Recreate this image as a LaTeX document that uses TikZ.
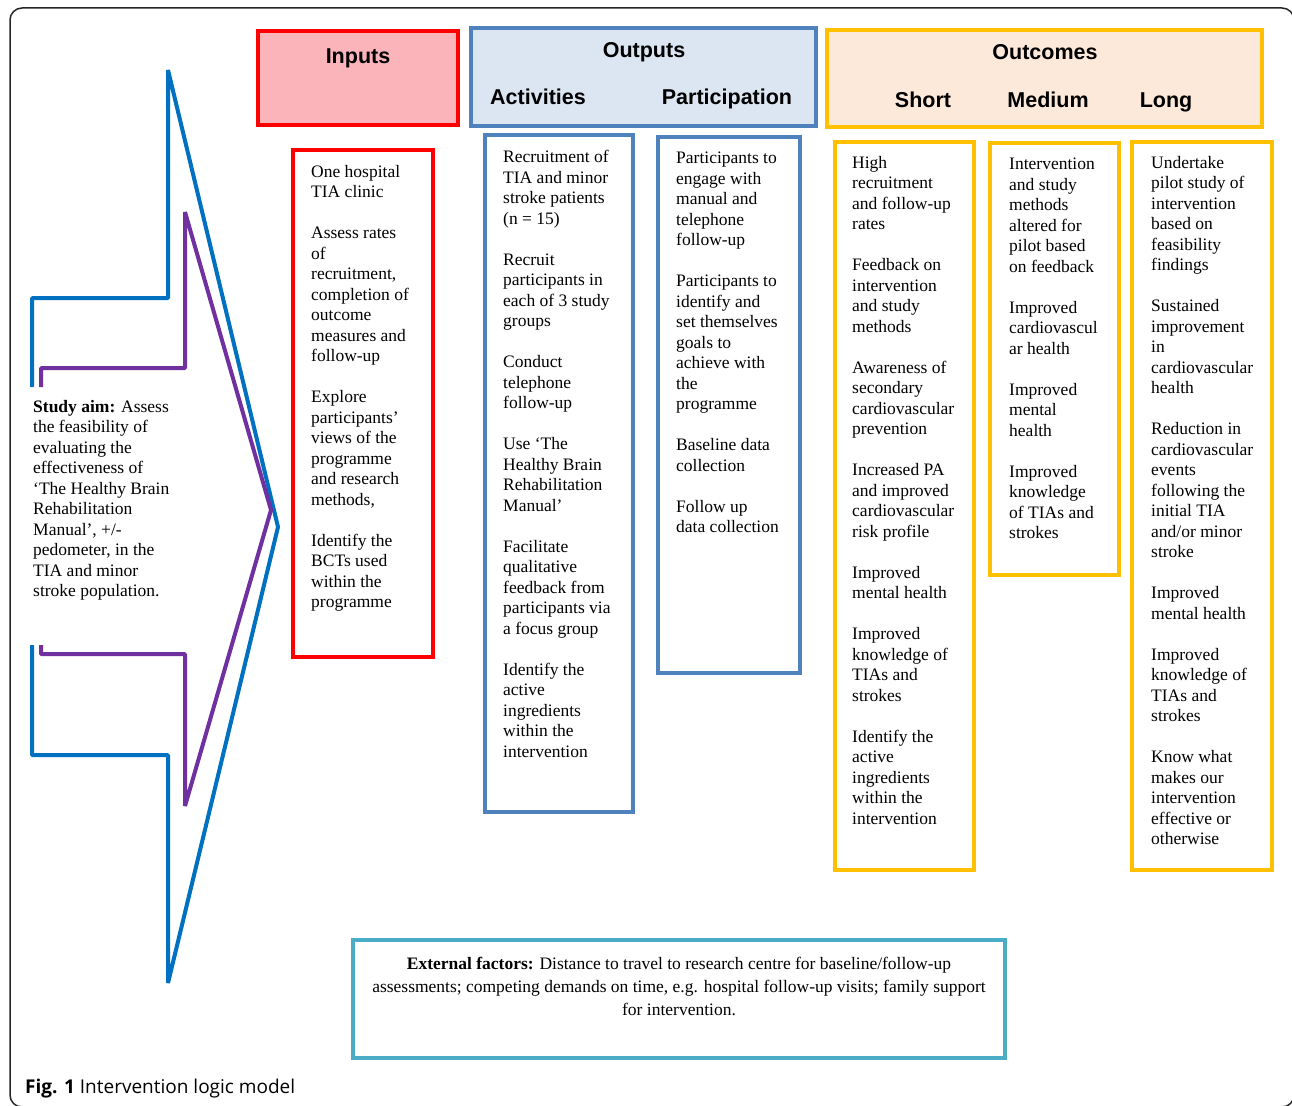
\documentclass[tikz,border=0pt]{standalone}
\usepackage{fontspec}
\setmainfont{Liberation Serif}
\newfontfamily\hdrfont{Liberation Sans}
\newfontfamily\capfont{Open Sans}
\definecolor{myred}{HTML}{FF0000}
\definecolor{pinkfill}{HTML}{FBB4B9}
\definecolor{outblue}{HTML}{4F81BD}
\definecolor{outfill}{HTML}{DCE6F2}
\definecolor{ocyel}{HTML}{FFC000}
\definecolor{ocfill}{HTML}{FDE9D9}
\definecolor{extcol}{HTML}{4BACC6}
\definecolor{arrblue}{HTML}{0070C0}
\definecolor{arrpurple}{HTML}{7030A0}
\newcommand\pgap{\\[20.5pt]}
\begin{document}
\begin{tikzpicture}[x=1pt,y=-1pt,
  boxline/.style={line width=4pt},
  bodytext/.style={anchor=north west, inner sep=0pt, align=left,
     font=\fontsize{17.5}{20.5}\selectfont, execute at begin node=\strut},
  hdrtext/.style={anchor=base, inner sep=0pt, font=\hdrfont\bfseries\fontsize{21.5}{24}\selectfont},
  arrowline/.style={line width=4pt, line join=bevel}]
\useasboundingbox (0,0) rectangle (1292,1105);
\begin{scope}
\clip (0,0) rectangle (1292,1105);
\draw[line width=1.5pt, rounded corners=12pt, black!85] (10,8) rectangle (1294,1107);
\end{scope}

% arrow shapes
\draw[arrowline, arrblue] (32,387) -- (32,298) -- (168,298) -- (168,70) -- (278,527)
   -- (168,983) -- (168,755) -- (32,755) -- (32,645);
\draw[arrowline, arrpurple] (41,387) -- (41,368) -- (185,368) -- (185,212) -- (271,510)
   -- (185,806) -- (185,654) -- (41,654) -- (41,645);

% header boxes
\draw[boxline, draw=myred, fill=pinkfill] (258,31) rectangle (458,125);
\draw[boxline, draw=outblue, fill=outfill] (471,28) rectangle (816,126);
\draw[boxline, draw=ocyel, fill=ocfill] (827,30) rectangle (1262,127);

\node[hdrtext] (inputs) at (358,64) {Inputs};
\node[hdrtext] (outputs) at (644,58) {Outputs};
\node[hdrtext] (activities) at (538,105) {Activities};
\node[hdrtext] (participation) at (727,105) {Participation};
\node[hdrtext] (outcomes) at (1045,60) {Outcomes};
\node[hdrtext] (short) at (923,107) {Short};
\node[hdrtext] (medium) at (1048,107) {Medium};
\node[hdrtext] (long) at (1166,107) {Long};

% body boxes
\draw[boxline, draw=myred] (293,150) rectangle (433,657);
\draw[boxline, draw=outblue] (485,135) rectangle (633,812);
\draw[boxline, draw=outblue] (658,137) rectangle (800,673);
\draw[boxline, draw=ocyel] (835,142) rectangle (974,870);
\draw[boxline, draw=ocyel] (990,143) rectangle (1119,575);
\draw[boxline, draw=ocyel] (1132,142) rectangle (1272,870);
\draw[boxline, draw=extcol] (353,940) rectangle (1005,1058);

\node[bodytext] (inputtxt) at (311,165) {One hospital\\TIA clinic\pgap
Assess rates\\of\\recruitment,\\completion of\\outcome\\measures and\\follow-up\pgap
Explore\\participants’\\views of the\\programme\\and research\\methods,\pgap
Identify the\\BCTs used\\within the\\programme};

\node[bodytext] (acttxt) at (503,150) {Recruitment of\\TIA and minor\\stroke patients\\(n = 15)\pgap
Recruit\\participants in\\each of 3 study\\groups\pgap
Conduct\\telephone\\follow-up\pgap
Use ‘The\\Healthy Brain\\Rehabilitation\\Manual’\pgap
Facilitate\\qualitative\\feedback from\\participants via\\a focus group\pgap
Identify the\\active\\ingredients\\within the\\intervention};

\node[bodytext] (parttxt) at (676,152) {Participants to\\engage with\\manual and\\telephone\\follow-up\pgap
Participants to\\identify and\\set themselves\\goals to\\achieve with\\the\\programme\pgap
Baseline data\\collection\pgap
Follow up\\data collection};

\node[bodytext] (shorttxt) at (852,156) {High\\recruitment\\and follow-up\\rates\pgap
Feedback on\\intervention\\and study\\methods\pgap
Awareness of\\secondary\\cardiovascular\\prevention\pgap
Increased PA\\and improved\\cardiovascular\\risk profile\pgap
Improved\\mental health\pgap
Improved\\knowledge of\\TIAs and\\strokes\pgap
Identify the\\active\\ingredients\\within the\\intervention};

\node[bodytext] (medtxt) at (1009,158) {Intervention\\and study\\methods\\altered for\\pilot based\\on feedback\pgap
Improved\\cardiovascul\\ar health\pgap
Improved\\mental\\health\pgap
Improved\\knowledge\\of TIAs and\\strokes};

\node[bodytext] (longtxt) at (1151,156) {Undertake\\pilot study of\\intervention\\based on\\feasibility\\findings\pgap
Sustained\\improvement\\in\\cardiovascular\\health\pgap
Reduction in\\cardiovascular\\events\\following the\\initial TIA\\and/or minor\\stroke\pgap
Improved\\mental health\pgap
Improved\\knowledge of\\TIAs and\\strokes\pgap
Know what\\makes our\\intervention\\effective or\\otherwise};

\node[bodytext] (aimtxt) at (33,400) {\textbf{Study aim:} Assess\\the feasibility of\\evaluating the\\effectiveness of\\‘The Healthy Brain\\Rehabilitation\\Manual’, +/-\\pedometer, in the\\TIA and minor\\stroke population.};

\node[anchor=north, inner sep=0pt, align=center, font=\fontsize{17.5}{23}\selectfont,
  execute at begin node=\strut] (exttxt) at (679,957)
  {\textbf{External factors:} Distance to travel to research centre for baseline/follow-up\\
   assessments; competing demands on time, e.g. hospital follow-up visits; family support\\
   for intervention.};

\node[anchor=base west, inner sep=0pt, font=\capfont\fontsize{19}{22}\selectfont] (caption) at (25,1093)
  {\textbf{Fig. 1} Intervention logic model};
\end{tikzpicture}
\end{document}
